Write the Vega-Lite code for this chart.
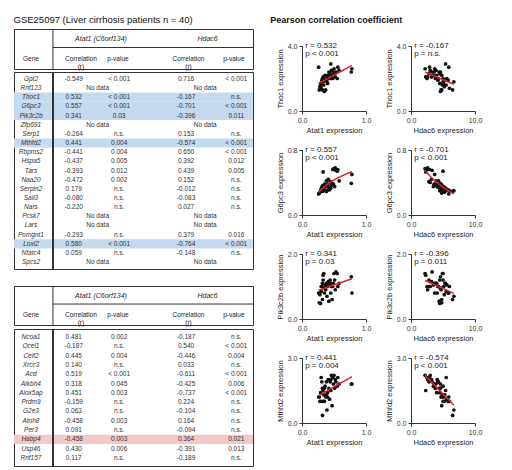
{
"$schema": "https://vega.github.io/schema/vega-lite/v6.json",
"padding": {"left": 13, "top": 14, "right": 5, "bottom": 5},
"config": {
  "view": {"stroke": null},
  "font": "Liberation Sans",
  "axis": {"grid": false, "domainColor": "#333", "tickColor": "#333", "tickSize": 3, "labelFontSize": 7, "labelColor": "#333", "titleFontSize": 7.5, "titleFontWeight": "normal", "titleColor": "#222", "labelFlush": false, "labelPadding": 2, "titlePadding": 3, "labelOverlap": false},
  "title": {"font": "Liberation Sans", "color": "#111"}
},
"datasets": {
  "t1": [
    {"g":"Gpt2","r1":"-0.549","p1":"< 0.001","r2":"0.716","p2":"< 0.001"},
    {"g":"Rnf123"},
    {"g":"Thoc1","r1":"0.532","p1":"< 0.001","r2":"-0.167","p2":"n.s."},
    {"g":"G6pc3","r1":"0.557","p1":"< 0.001","r2":"-0.701","p2":"< 0.001"},
    {"g":"Pik3c2b","r1":"0.341","p1":"0.03","r2":"-0.396","p2":"0.011"},
    {"g":"Zfp691"},
    {"g":"Serp1","r1":"-0.264","p1":"n.s.","r2":"0.153","p2":"n.s."},
    {"g":"Mthfd2","r1":"0.441","p1":"0.004","r2":"-0.574","p2":"< 0.001"},
    {"g":"Rbpms2","r1":"-0.441","p1":"0.004","r2":"0.650","p2":"< 0.001"},
    {"g":"Hspa5","r1":"-0.437","p1":"0.005","r2":"0.392","p2":"0.012"},
    {"g":"Tars","r1":"-0.393","p1":"0.012","r2":"0.439","p2":"0.005"},
    {"g":"Naa20","r1":"-0.472","p1":"0.002","r2":"0.152","p2":"n.s."},
    {"g":"Serpin2","r1":"0.179","p1":"n.s.","r2":"-0.012","p2":"n.s."},
    {"g":"Sall3","r1":"-0.080","p1":"n.s.","r2":"-0.083","p2":"n.s."},
    {"g":"Nars","r1":"-0.220","p1":"n.s.","r2":"0.027","p2":"n.s."},
    {"g":"Pcsk7"},
    {"g":"Lars"},
    {"g":"Pomgnt1","r1":"-0.293","p1":"n.s.","r2":"0.379","p2":"0.016"},
    {"g":"Loxl2","r1":"0.580","p1":"< 0.001","r2":"-0.764","p2":"< 0.001"},
    {"g":"Nfatc4","r1":"0.059","p1":"n.s.","r2":"-0.148","p2":"n.s."},
    {"g":"Spcs2"}
  ],
  "t2": [
    {"g":"Ncoa1","r1":"0.481","p1":"0.002","r2":"-0.187","p2":"n.s."},
    {"g":"Ocel1","r1":"-0.187","p1":"n.s.","r2":"0.540","p2":"< 0.001"},
    {"g":"Celf2","r1":"0.445","p1":"0.004","r2":"-0.446","p2":"0.004"},
    {"g":"Xrcc3","r1":"0.140","p1":"n.s.","r2":"0.033","p2":"n.s."},
    {"g":"Acd","r1":"0.519","p1":"< 0.001","r2":"-0.611","p2":"< 0.001"},
    {"g":"Alkbh4","r1":"0.318","p1":"0.045","r2":"-0.425","p2":"0.006"},
    {"g":"Alox5ap","r1":"0.451","p1":"0.003","r2":"-0.737","p2":"< 0.001"},
    {"g":"Prdm9","r1":"-0.159","p1":"n.s.","r2":"0.224","p2":"n.s."},
    {"g":"G2e3","r1":"0.063","p1":"n.s.","r2":"-0.104","p2":"n.s."},
    {"g":"Atoh8","r1":"-0.458","p1":"0.003","r2":"0.164","p2":"n.s."},
    {"g":"Per3","r1":"0.091","p1":"n.s.","r2":"-0.094","p2":"n.s."},
    {"g":"Habp4","r1":"-0.458","p1":"0.003","r2":"0.364","p2":"0.021"},
    {"g":"Usp46","r1":"0.430","p1":"0.006","r2":"-0.391","p2":"0.013"},
    {"g":"Rnf157","r1":"0.117","p1":"n.s.","r2":"-0.189","p2":"n.s."}
  ],
  "pts": [
    {"a":0.27,"h":4.8,"Thoc1":1.3,"G6pc3":0.27,"Pik3c2b":0.50,"Mthfd2":1.2},
    {"a":0.28,"h":5.2,"Thoc1":1.5,"G6pc3":0.28,"Pik3c2b":0.75,"Mthfd2":1.0},
    {"a":0.29,"h":4.5,"Thoc1":1.7,"G6pc3":0.30,"Pik3c2b":0.48,"Mthfd2":1.4},
    {"a":0.30,"h":6.0,"Thoc1":1.4,"G6pc3":0.30,"Pik3c2b":1.0,"Mthfd2":1.0},
    {"a":0.30,"h":5.5,"Thoc1":1.6,"G6pc3":0.32,"Pik3c2b":0.85,"Mthfd2":2.1},
    {"a":0.31,"h":4.2,"Thoc1":1.9,"G6pc3":0.34,"Pik3c2b":1.0,"Mthfd2":1.9},
    {"a":0.32,"h":6.5,"Thoc1":1.3,"G6pc3":0.29,"Pik3c2b":0.60,"Mthfd2":0.35},
    {"a":0.32,"h":3.8,"Thoc1":2.0,"G6pc3":0.36,"Pik3c2b":1.1,"Mthfd2":1.6},
    {"a":0.33,"h":5.0,"Thoc1":1.8,"G6pc3":0.31,"Pik3c2b":1.2,"Mthfd2":1.0},
    {"a":0.33,"h":2.3,"Thoc1":2.1,"G6pc3":0.53,"Pik3c2b":1.35,"Mthfd2":1.5},
    {"a":0.34,"h":4.9,"Thoc1":1.6,"G6pc3":0.33,"Pik3c2b":1.4,"Mthfd2":1.3},
    {"a":0.35,"h":4.6,"Thoc1":1.2,"G6pc3":0.38,"Pik3c2b":0.95,"Mthfd2":1.6},
    {"a":0.35,"h":5.8,"Thoc1":1.9,"G6pc3":0.31,"Pik3c2b":0.80,"Mthfd2":1.0},
    {"a":0.36,"h":3.5,"Thoc1":2.2,"G6pc3":0.35,"Pik3c2b":1.05,"Mthfd2":1.7},
    {"a":0.37,"h":4.7,"Thoc1":1.3,"G6pc3":0.30,"Pik3c2b":0.90,"Mthfd2":1.2},
    {"a":0.38,"h":5.3,"Thoc1":1.9,"G6pc3":0.29,"Pik3c2b":1.1,"Mthfd2":1.3},
    {"a":0.38,"h":4.3,"Thoc1":2.0,"G6pc3":0.42,"Pik3c2b":1.0,"Mthfd2":1.9},
    {"a":0.39,"h":6.7,"Thoc1":1.8,"G6pc3":0.30,"Pik3c2b":0.70,"Mthfd2":0.6},
    {"a":0.40,"h":4.0,"Thoc1":2.2,"G6pc3":0.38,"Pik3c2b":1.1,"Mthfd2":1.4},
    {"a":0.40,"h":5.1,"Thoc1":1.7,"G6pc3":0.35,"Pik3c2b":1.0,"Mthfd2":1.2},
    {"a":0.41,"h":3.2,"Thoc1":2.1,"G6pc3":0.44,"Pik3c2b":1.15,"Mthfd2":2.0},
    {"a":0.42,"h":4.4,"Thoc1":2.4,"G6pc3":0.34,"Pik3c2b":0.55,"Mthfd2":1.6},
    {"a":0.43,"h":5.6,"Thoc1":2.0,"G6pc3":0.31,"Pik3c2b":1.05,"Mthfd2":1.1},
    {"a":0.44,"h":2.8,"Thoc1":2.3,"G6pc3":0.41,"Pik3c2b":1.2,"Mthfd2":1.9},
    {"a":0.45,"h":4.1,"Thoc1":2.0,"G6pc3":0.36,"Pik3c2b":0.80,"Mthfd2":2.0},
    {"a":0.45,"h":5.4,"Thoc1":2.9,"G6pc3":0.33,"Pik3c2b":1.1,"Mthfd2":1.5},
    {"a":0.46,"h":3.0,"Thoc1":2.5,"G6pc3":0.40,"Pik3c2b":1.0,"Mthfd2":2.2},
    {"a":0.47,"h":4.8,"Thoc1":2.2,"G6pc3":0.37,"Pik3c2b":0.60,"Mthfd2":0.8},
    {"a":0.48,"h":2.5,"Thoc1":2.0,"G6pc3":0.56,"Pik3c2b":1.0,"Mthfd2":2.1},
    {"a":0.49,"h":3.6,"Thoc1":2.4,"G6pc3":0.38,"Pik3c2b":1.1,"Mthfd2":1.8},
    {"a":0.50,"h":2.2,"Thoc1":2.6,"G6pc3":0.57,"Pik3c2b":1.4,"Mthfd2":2.2},
    {"a":0.51,"h":4.5,"Thoc1":2.3,"G6pc3":0.35,"Pik3c2b":1.2,"Mthfd2":1.6},
    {"a":0.52,"h":2.6,"Thoc1":2.1,"G6pc3":0.58,"Pik3c2b":0.90,"Mthfd2":2.0},
    {"a":0.53,"h":3.3,"Thoc1":2.4,"G6pc3":0.55,"Pik3c2b":1.45,"Mthfd2":1.9},
    {"a":0.55,"h":5.0,"Thoc1":2.0,"G6pc3":0.54,"Pik3c2b":1.4,"Mthfd2":1.7},
    {"a":0.56,"h":2.9,"Thoc1":2.7,"G6pc3":0.56,"Pik3c2b":1.0,"Mthfd2":2.1},
    {"a":0.58,"h":3.9,"Thoc1":2.5,"G6pc3":0.42,"Pik3c2b":1.1,"Mthfd2":1.8},
    {"a":0.26,"h":5.9,"Thoc1":2.7,"G6pc3":0.26,"Pik3c2b":0.80,"Mthfd2":1.2},
    {"a":0.77,"h":4.6,"Thoc1":2.4,"G6pc3":0.39,"Pik3c2b":1.3,"Mthfd2":1.8},
    {"a":0.78,"h":3.7,"Thoc1":2.6,"G6pc3":0.50,"Pik3c2b":0.80,"Mthfd2":1.8}
  ]
},
"spacing": 16,
"hconcat": [
  {
    "title": {"text": "GSE25097 (Liver cirrhosis patients n = 40)", "anchor": "start", "fontSize": 9.5, "fontWeight": "normal", "offset": 4},
    "spacing": 15,
    "vconcat": [
      {
        "spacing": 0,
        "vconcat": [
          {
            "width": 239, "height": 40,
            "view": {"stroke": "#333", "strokeWidth": 1},
            "data": {"values": [{"k": 1}]},
            "layer": [
              {"mark": {"type": "rule", "color": "#333"}, "encoding": {"x": {"datum": 16.3, "type": "quantitative", "scale": {"domain": [0, 100]}, "axis": null}}},
              {"mark": {"type": "rule", "color": "#333"}, "encoding": {"x": {"datum": 16.3, "type": "quantitative", "scale": {"domain": [0, 100]}, "axis": null}, "x2": {"datum": 100}, "y": {"datum": 1.85, "type": "quantitative", "scale": {"domain": [0, 4], "reverse": true}, "axis": null}}},
              {"mark": {"type": "text", "fontSize": 7, "fontStyle": "italic", "color": "#222"}, "encoding": {"x": {"datum": 36.4, "type": "quantitative", "scale": {"domain": [0, 100]}, "axis": null}, "y": {"datum": 1.0, "type": "quantitative", "scale": {"domain": [0, 4], "reverse": true}, "axis": null}, "text": {"value": "Atat1 (C6orf134)"}}},
              {"mark": {"type": "text", "fontSize": 7, "fontStyle": "italic", "color": "#222"}, "encoding": {"x": {"datum": 81, "type": "quantitative", "scale": {"domain": [0, 100]}, "axis": null}, "y": {"datum": 1.0, "type": "quantitative", "scale": {"domain": [0, 4], "reverse": true}, "axis": null}, "text": {"value": "Hdac6"}}},
              {"mark": {"type": "text", "fontSize": 6.5, "color": "#222"}, "encoding": {"x": {"datum": 7.1, "type": "quantitative", "scale": {"domain": [0, 100]}, "axis": null}, "y": {"datum": 3.0, "type": "quantitative", "scale": {"domain": [0, 4], "reverse": true}, "axis": null}, "text": {"value": "Gene"}}},
              {"mark": {"type": "text", "fontSize": 6.5, "color": "#222", "lineBreak": "\n", "lineHeight": 8}, "encoding": {"x": {"datum": 28, "type": "quantitative", "scale": {"domain": [0, 100]}, "axis": null}, "y": {"datum": 3.0, "type": "quantitative", "scale": {"domain": [0, 4], "reverse": true}, "axis": null}, "text": {"value": "Correlation\n(r)"}}},
              {"mark": {"type": "text", "fontSize": 6.5, "color": "#222"}, "encoding": {"x": {"datum": 43.5, "type": "quantitative", "scale": {"domain": [0, 100]}, "axis": null}, "y": {"datum": 3.0, "type": "quantitative", "scale": {"domain": [0, 4], "reverse": true}, "axis": null}, "text": {"value": "p-value"}}},
              {"mark": {"type": "text", "fontSize": 6.5, "color": "#222", "lineBreak": "\n", "lineHeight": 8}, "encoding": {"x": {"datum": 73, "type": "quantitative", "scale": {"domain": [0, 100]}, "axis": null}, "y": {"datum": 3.0, "type": "quantitative", "scale": {"domain": [0, 4], "reverse": true}, "axis": null}, "text": {"value": "Correlation\n(r)"}}},
              {"mark": {"type": "text", "fontSize": 6.5, "color": "#222"}, "encoding": {"x": {"datum": 92, "type": "quantitative", "scale": {"domain": [0, 100]}, "axis": null}, "y": {"datum": 3.0, "type": "quantitative", "scale": {"domain": [0, 4], "reverse": true}, "axis": null}, "text": {"value": "p-value"}}}
            ]
          },
          {
            "width": 239, "height": 197,
            "view": {"stroke": "#333", "strokeWidth": 1},
            "data": {"name": "t1"},
            "layer": [
              {"transform": [{"filter": {"field": "g", "oneOf": ["Thoc1","G6pc3","Pik3c2b","Mthfd2","Loxl2"]}}], "mark": {"type": "rect", "color": "#c5d9ef"}, "encoding": {"x": {"datum": 0, "type": "quantitative", "scale": {"domain": [0, 100]}, "axis": null}, "x2": {"datum": 100}, "y": {"field": "g", "type": "nominal", "scale": {"domain": ["Gpt2","Rnf123","Thoc1","G6pc3","Pik3c2b","Zfp691","Serp1","Mthfd2","Rbpms2","Hspa5","Tars","Naa20","Serpin2","Sall3","Nars","Pcsk7","Lars","Pomgnt1","Loxl2","Nfatc4","Spcs2"], "paddingOuter": 0.25, "paddingInner": 0}, "axis": null}}},
              {"mark": {"type": "rule", "color": "#333"}, "encoding": {"x": {"datum": 16.3, "type": "quantitative", "scale": {"domain": [0, 100]}, "axis": null}}},
              {"mark": {"type": "text", "fontSize": 6.5, "fontStyle": "italic", "color": "#333"}, "encoding": {"x": {"datum": 7.1, "type": "quantitative", "scale": {"domain": [0, 100]}, "axis": null}, "y": {"field": "g", "type": "nominal", "scale": {"domain": ["Gpt2","Rnf123","Thoc1","G6pc3","Pik3c2b","Zfp691","Serp1","Mthfd2","Rbpms2","Hspa5","Tars","Naa20","Serpin2","Sall3","Nars","Pcsk7","Lars","Pomgnt1","Loxl2","Nfatc4","Spcs2"], "paddingOuter": 0.25, "paddingInner": 0}, "axis": null}, "text": {"field": "g"}}},
              {"transform": [{"filter": "isValid(datum.r1)"}], "mark": {"type": "text", "fontSize": 6.5, "color": "#333"}, "encoding": {"x": {"datum": 25, "type": "quantitative", "scale": {"domain": [0, 100]}, "axis": null}, "y": {"field": "g", "type": "nominal", "scale": {"domain": ["Gpt2","Rnf123","Thoc1","G6pc3","Pik3c2b","Zfp691","Serp1","Mthfd2","Rbpms2","Hspa5","Tars","Naa20","Serpin2","Sall3","Nars","Pcsk7","Lars","Pomgnt1","Loxl2","Nfatc4","Spcs2"], "paddingOuter": 0.25, "paddingInner": 0}, "axis": null}, "text": {"field": "r1"}}},
              {"transform": [{"filter": "isValid(datum.r1)"}], "mark": {"type": "text", "fontSize": 6.5, "color": "#333"}, "encoding": {"x": {"datum": 44, "type": "quantitative", "scale": {"domain": [0, 100]}, "axis": null}, "y": {"field": "g", "type": "nominal", "scale": {"domain": ["Gpt2","Rnf123","Thoc1","G6pc3","Pik3c2b","Zfp691","Serp1","Mthfd2","Rbpms2","Hspa5","Tars","Naa20","Serpin2","Sall3","Nars","Pcsk7","Lars","Pomgnt1","Loxl2","Nfatc4","Spcs2"], "paddingOuter": 0.25, "paddingInner": 0}, "axis": null}, "text": {"field": "p1"}}},
              {"transform": [{"filter": "isValid(datum.r1)"}], "mark": {"type": "text", "fontSize": 6.5, "color": "#333"}, "encoding": {"x": {"datum": 72, "type": "quantitative", "scale": {"domain": [0, 100]}, "axis": null}, "y": {"field": "g", "type": "nominal", "scale": {"domain": ["Gpt2","Rnf123","Thoc1","G6pc3","Pik3c2b","Zfp691","Serp1","Mthfd2","Rbpms2","Hspa5","Tars","Naa20","Serpin2","Sall3","Nars","Pcsk7","Lars","Pomgnt1","Loxl2","Nfatc4","Spcs2"], "paddingOuter": 0.25, "paddingInner": 0}, "axis": null}, "text": {"field": "r2"}}},
              {"transform": [{"filter": "isValid(datum.r1)"}], "mark": {"type": "text", "fontSize": 6.5, "color": "#333"}, "encoding": {"x": {"datum": 93, "type": "quantitative", "scale": {"domain": [0, 100]}, "axis": null}, "y": {"field": "g", "type": "nominal", "scale": {"domain": ["Gpt2","Rnf123","Thoc1","G6pc3","Pik3c2b","Zfp691","Serp1","Mthfd2","Rbpms2","Hspa5","Tars","Naa20","Serpin2","Sall3","Nars","Pcsk7","Lars","Pomgnt1","Loxl2","Nfatc4","Spcs2"], "paddingOuter": 0.25, "paddingInner": 0}, "axis": null}, "text": {"field": "p2"}}},
              {"transform": [{"filter": "!isValid(datum.r1)"}], "mark": {"type": "text", "fontSize": 6.5, "color": "#333"}, "encoding": {"x": {"datum": 35, "type": "quantitative", "scale": {"domain": [0, 100]}, "axis": null}, "y": {"field": "g", "type": "nominal", "scale": {"domain": ["Gpt2","Rnf123","Thoc1","G6pc3","Pik3c2b","Zfp691","Serp1","Mthfd2","Rbpms2","Hspa5","Tars","Naa20","Serpin2","Sall3","Nars","Pcsk7","Lars","Pomgnt1","Loxl2","Nfatc4","Spcs2"], "paddingOuter": 0.25, "paddingInner": 0}, "axis": null}, "text": {"value": "No data"}}},
              {"transform": [{"filter": "!isValid(datum.r1)"}], "mark": {"type": "text", "fontSize": 6.5, "color": "#333"}, "encoding": {"x": {"datum": 80, "type": "quantitative", "scale": {"domain": [0, 100]}, "axis": null}, "y": {"field": "g", "type": "nominal", "scale": {"domain": ["Gpt2","Rnf123","Thoc1","G6pc3","Pik3c2b","Zfp691","Serp1","Mthfd2","Rbpms2","Hspa5","Tars","Naa20","Serpin2","Sall3","Nars","Pcsk7","Lars","Pomgnt1","Loxl2","Nfatc4","Spcs2"], "paddingOuter": 0.25, "paddingInner": 0}, "axis": null}, "text": {"value": "No data"}}}
            ]
          }
        ]
      },
      {
        "spacing": 0,
        "vconcat": [
          {
            "width": 239, "height": 39,
            "view": {"stroke": "#333", "strokeWidth": 1},
            "data": {"values": [{"k": 1}]},
            "layer": [
              {"mark": {"type": "rule", "color": "#333"}, "encoding": {"x": {"datum": 16.3, "type": "quantitative", "scale": {"domain": [0, 100]}, "axis": null}}},
              {"mark": {"type": "rule", "color": "#333"}, "encoding": {"x": {"datum": 16.3, "type": "quantitative", "scale": {"domain": [0, 100]}, "axis": null}, "x2": {"datum": 100}, "y": {"datum": 1.85, "type": "quantitative", "scale": {"domain": [0, 4], "reverse": true}, "axis": null}}},
              {"mark": {"type": "text", "fontSize": 7, "fontStyle": "italic", "color": "#222"}, "encoding": {"x": {"datum": 36.4, "type": "quantitative", "scale": {"domain": [0, 100]}, "axis": null}, "y": {"datum": 1.0, "type": "quantitative", "scale": {"domain": [0, 4], "reverse": true}, "axis": null}, "text": {"value": "Atat1 (C6orf134)"}}},
              {"mark": {"type": "text", "fontSize": 7, "fontStyle": "italic", "color": "#222"}, "encoding": {"x": {"datum": 81, "type": "quantitative", "scale": {"domain": [0, 100]}, "axis": null}, "y": {"datum": 1.0, "type": "quantitative", "scale": {"domain": [0, 4], "reverse": true}, "axis": null}, "text": {"value": "Hdac6"}}},
              {"mark": {"type": "text", "fontSize": 6.5, "color": "#222"}, "encoding": {"x": {"datum": 7.1, "type": "quantitative", "scale": {"domain": [0, 100]}, "axis": null}, "y": {"datum": 3.0, "type": "quantitative", "scale": {"domain": [0, 4], "reverse": true}, "axis": null}, "text": {"value": "Gene"}}},
              {"mark": {"type": "text", "fontSize": 6.5, "color": "#222", "lineBreak": "\n", "lineHeight": 8}, "encoding": {"x": {"datum": 28, "type": "quantitative", "scale": {"domain": [0, 100]}, "axis": null}, "y": {"datum": 3.0, "type": "quantitative", "scale": {"domain": [0, 4], "reverse": true}, "axis": null}, "text": {"value": "Correlation\n(r)"}}},
              {"mark": {"type": "text", "fontSize": 6.5, "color": "#222"}, "encoding": {"x": {"datum": 43.5, "type": "quantitative", "scale": {"domain": [0, 100]}, "axis": null}, "y": {"datum": 3.0, "type": "quantitative", "scale": {"domain": [0, 4], "reverse": true}, "axis": null}, "text": {"value": "p-value"}}},
              {"mark": {"type": "text", "fontSize": 6.5, "color": "#222", "lineBreak": "\n", "lineHeight": 8}, "encoding": {"x": {"datum": 73, "type": "quantitative", "scale": {"domain": [0, 100]}, "axis": null}, "y": {"datum": 3.0, "type": "quantitative", "scale": {"domain": [0, 4], "reverse": true}, "axis": null}, "text": {"value": "Correlation\n(r)"}}},
              {"mark": {"type": "text", "fontSize": 6.5, "color": "#222"}, "encoding": {"x": {"datum": 92, "type": "quantitative", "scale": {"domain": [0, 100]}, "axis": null}, "y": {"datum": 3.0, "type": "quantitative", "scale": {"domain": [0, 4], "reverse": true}, "axis": null}, "text": {"value": "p-value"}}}
            ]
          },
          {
            "width": 239, "height": 137,
            "view": {"stroke": "#333", "strokeWidth": 1},
            "data": {"name": "t2"},
            "layer": [
              {"transform": [{"filter": {"field": "g", "oneOf": ["Habp4"]}}], "mark": {"type": "rect", "color": "#f3c8c8"}, "encoding": {"x": {"datum": 0, "type": "quantitative", "scale": {"domain": [0, 100]}, "axis": null}, "x2": {"datum": 100}, "y": {"field": "g", "type": "nominal", "scale": {"domain": ["Ncoa1","Ocel1","Celf2","Xrcc3","Acd","Alkbh4","Alox5ap","Prdm9","G2e3","Atoh8","Per3","Habp4","Usp46","Rnf157"], "paddingOuter": 0.35, "paddingInner": 0}, "axis": null}}},
              {"mark": {"type": "rule", "color": "#333"}, "encoding": {"x": {"datum": 16.3, "type": "quantitative", "scale": {"domain": [0, 100]}, "axis": null}}},
              {"mark": {"type": "text", "fontSize": 6.5, "fontStyle": "italic", "color": "#333"}, "encoding": {"x": {"datum": 7.1, "type": "quantitative", "scale": {"domain": [0, 100]}, "axis": null}, "y": {"field": "g", "type": "nominal", "scale": {"domain": ["Ncoa1","Ocel1","Celf2","Xrcc3","Acd","Alkbh4","Alox5ap","Prdm9","G2e3","Atoh8","Per3","Habp4","Usp46","Rnf157"], "paddingOuter": 0.35, "paddingInner": 0}, "axis": null}, "text": {"field": "g"}}},
              {"mark": {"type": "text", "fontSize": 6.5, "color": "#333"}, "encoding": {"x": {"datum": 25, "type": "quantitative", "scale": {"domain": [0, 100]}, "axis": null}, "y": {"field": "g", "type": "nominal", "scale": {"domain": ["Ncoa1","Ocel1","Celf2","Xrcc3","Acd","Alkbh4","Alox5ap","Prdm9","G2e3","Atoh8","Per3","Habp4","Usp46","Rnf157"], "paddingOuter": 0.35, "paddingInner": 0}, "axis": null}, "text": {"field": "r1"}}},
              {"mark": {"type": "text", "fontSize": 6.5, "color": "#333"}, "encoding": {"x": {"datum": 44, "type": "quantitative", "scale": {"domain": [0, 100]}, "axis": null}, "y": {"field": "g", "type": "nominal", "scale": {"domain": ["Ncoa1","Ocel1","Celf2","Xrcc3","Acd","Alkbh4","Alox5ap","Prdm9","G2e3","Atoh8","Per3","Habp4","Usp46","Rnf157"], "paddingOuter": 0.35, "paddingInner": 0}, "axis": null}, "text": {"field": "p1"}}},
              {"mark": {"type": "text", "fontSize": 6.5, "color": "#333"}, "encoding": {"x": {"datum": 72, "type": "quantitative", "scale": {"domain": [0, 100]}, "axis": null}, "y": {"field": "g", "type": "nominal", "scale": {"domain": ["Ncoa1","Ocel1","Celf2","Xrcc3","Acd","Alkbh4","Alox5ap","Prdm9","G2e3","Atoh8","Per3","Habp4","Usp46","Rnf157"], "paddingOuter": 0.35, "paddingInner": 0}, "axis": null}, "text": {"field": "r2"}}},
              {"mark": {"type": "text", "fontSize": 6.5, "color": "#333"}, "encoding": {"x": {"datum": 93, "type": "quantitative", "scale": {"domain": [0, 100]}, "axis": null}, "y": {"field": "g", "type": "nominal", "scale": {"domain": ["Ncoa1","Ocel1","Celf2","Xrcc3","Acd","Alkbh4","Alox5ap","Prdm9","G2e3","Atoh8","Per3","Habp4","Usp46","Rnf157"], "paddingOuter": 0.35, "paddingInner": 0}, "axis": null}, "text": {"field": "p2"}}}
            ]
          }
        ]
      }
    ]
  },
  {
    "title": {"text": "Pearson correlation coefficient", "anchor": "start", "fontSize": 9, "fontWeight": "bold", "offset": 4.5, "dx": -6},
    "spacing": 12,
    "vconcat": [
      {"width": 10, "height": 1, "data": {"values": [{"k": 1}]}, "mark": {"type": "rect", "opacity": 0}, "encoding": {}},
      {"spacing": 14, "hconcat": [
        {"width": 64, "height": 65, "layer": [
          {"data": {"name": "pts"}, "mark": {"type": "circle", "size": 14, "color": "#111", "opacity": 1}, "encoding": {"x": {"field": "a", "type": "quantitative", "scale": {"domain": [0, 1]}, "axis": {"values": [0, 0.5, 1], "format": ".1f", "title": "Atat1 expression"}}, "y": {"field": "Thoc1", "type": "quantitative", "scale": {"domain": [0, 4]}, "axis": {"values": [0, 1, 2, 3, 4], "format": ".1f", "title": "Thoc1 expression"}}}},
          {"data": {"name": "pts"}, "transform": [{"regression": "Thoc1", "on": "a"}], "mark": {"type": "line", "color": "#e3202b", "strokeWidth": 1.5}, "encoding": {"x": {"field": "a", "type": "quantitative"}, "y": {"field": "Thoc1", "type": "quantitative"}}},
          {"data": {"values": [{"t": "r = 0.532\np < 0.001"}]}, "mark": {"type": "text", "align": "left", "baseline": "middle", "fontSize": 8, "lineHeight": 8, "lineBreak": "\n", "color": "#222"}, "encoding": {"x": {"datum": 0.05}, "y": {"datum": 4}, "text": {"field": "t"}}}
        ]},
        {"width": 64, "height": 65, "layer": [
          {"data": {"name": "pts"}, "mark": {"type": "circle", "size": 14, "color": "#111", "opacity": 1}, "encoding": {"x": {"field": "h", "type": "quantitative", "scale": {"domain": [0, 10]}, "axis": {"values": [0, 5, 10], "format": ".1f", "title": "Hdac6 expression"}}, "y": {"field": "Thoc1", "type": "quantitative", "scale": {"domain": [0, 4]}, "axis": {"values": [0, 1, 2, 3, 4], "format": ".1f", "title": "Thoc1 expression"}}}},
          {"data": {"name": "pts"}, "transform": [{"regression": "Thoc1", "on": "h"}], "mark": {"type": "line", "color": "#e3202b", "strokeWidth": 1.5}, "encoding": {"x": {"field": "h", "type": "quantitative"}, "y": {"field": "Thoc1", "type": "quantitative"}}},
          {"data": {"values": [{"t": "r = -0.167\np = n.s."}]}, "mark": {"type": "text", "align": "left", "baseline": "middle", "fontSize": 8, "lineHeight": 8, "lineBreak": "\n", "color": "#222"}, "encoding": {"x": {"datum": 0.5}, "y": {"datum": 4}, "text": {"field": "t"}}}
        ]}
      ]},
      {"spacing": 14, "hconcat": [
        {"width": 64, "height": 65, "layer": [
          {"data": {"name": "pts"}, "mark": {"type": "circle", "size": 14, "color": "#111", "opacity": 1}, "encoding": {"x": {"field": "a", "type": "quantitative", "scale": {"domain": [0, 1]}, "axis": {"values": [0, 0.5, 1], "format": ".1f", "title": "Atat1 expression"}}, "y": {"field": "G6pc3", "type": "quantitative", "scale": {"domain": [0, 0.8]}, "axis": {"values": [0, 0.2, 0.4, 0.6, 0.8], "format": ".1f", "title": "G6pc3 expression"}}}},
          {"data": {"name": "pts"}, "transform": [{"regression": "G6pc3", "on": "a", "method": "log"}], "mark": {"type": "line", "color": "#e3202b", "strokeWidth": 1.5}, "encoding": {"x": {"field": "a", "type": "quantitative"}, "y": {"field": "G6pc3", "type": "quantitative"}}},
          {"data": {"values": [{"t": "r = 0.557\np < 0.001"}]}, "mark": {"type": "text", "align": "left", "baseline": "middle", "fontSize": 8, "lineHeight": 8, "lineBreak": "\n", "color": "#222"}, "encoding": {"x": {"datum": 0.05}, "y": {"datum": 0.8}, "text": {"field": "t"}}}
        ]},
        {"width": 64, "height": 65, "layer": [
          {"data": {"name": "pts"}, "mark": {"type": "circle", "size": 14, "color": "#111", "opacity": 1}, "encoding": {"x": {"field": "h", "type": "quantitative", "scale": {"domain": [0, 10]}, "axis": {"values": [0, 5, 10], "format": ".1f", "title": "Hdac6 expression"}}, "y": {"field": "G6pc3", "type": "quantitative", "scale": {"domain": [0, 0.8]}, "axis": {"values": [0, 0.2, 0.4, 0.6, 0.8], "format": ".1f", "title": "G6pc3 expression"}}}},
          {"data": {"name": "pts"}, "transform": [{"regression": "G6pc3", "on": "h", "method": "exp"}], "mark": {"type": "line", "color": "#e3202b", "strokeWidth": 1.5}, "encoding": {"x": {"field": "h", "type": "quantitative"}, "y": {"field": "G6pc3", "type": "quantitative"}}},
          {"data": {"values": [{"t": "r = -0.701\np < 0.001"}]}, "mark": {"type": "text", "align": "left", "baseline": "middle", "fontSize": 8, "lineHeight": 8, "lineBreak": "\n", "color": "#222"}, "encoding": {"x": {"datum": 0.5}, "y": {"datum": 0.8}, "text": {"field": "t"}}}
        ]}
      ]},
      {"spacing": 14, "hconcat": [
        {"width": 64, "height": 65, "layer": [
          {"data": {"name": "pts"}, "mark": {"type": "circle", "size": 14, "color": "#111", "opacity": 1}, "encoding": {"x": {"field": "a", "type": "quantitative", "scale": {"domain": [0, 1]}, "axis": {"values": [0, 0.5, 1], "format": ".1f", "title": "Atat1 expression"}}, "y": {"field": "Pik3c2b", "type": "quantitative", "scale": {"domain": [0, 2]}, "axis": {"values": [0, 0.5, 1, 1.5, 2], "format": ".1f", "title": "Pik3c2b expression"}}}},
          {"data": {"name": "pts"}, "transform": [{"regression": "Pik3c2b", "on": "a"}], "mark": {"type": "line", "color": "#e3202b", "strokeWidth": 1.5}, "encoding": {"x": {"field": "a", "type": "quantitative"}, "y": {"field": "Pik3c2b", "type": "quantitative"}}},
          {"data": {"values": [{"t": "r = 0.341\np = 0.03"}]}, "mark": {"type": "text", "align": "left", "baseline": "middle", "fontSize": 8, "lineHeight": 8, "lineBreak": "\n", "color": "#222"}, "encoding": {"x": {"datum": 0.05}, "y": {"datum": 2}, "text": {"field": "t"}}}
        ]},
        {"width": 64, "height": 65, "layer": [
          {"data": {"name": "pts"}, "mark": {"type": "circle", "size": 14, "color": "#111", "opacity": 1}, "encoding": {"x": {"field": "h", "type": "quantitative", "scale": {"domain": [0, 10]}, "axis": {"values": [0, 5, 10], "format": ".1f", "title": "Hdac6 expression"}}, "y": {"field": "Pik3c2b", "type": "quantitative", "scale": {"domain": [0, 2]}, "axis": {"values": [0, 0.5, 1, 1.5, 2], "format": ".1f", "title": "Pik3c2b expression"}}}},
          {"data": {"name": "pts"}, "transform": [{"regression": "Pik3c2b", "on": "h"}], "mark": {"type": "line", "color": "#e3202b", "strokeWidth": 1.5}, "encoding": {"x": {"field": "h", "type": "quantitative"}, "y": {"field": "Pik3c2b", "type": "quantitative"}}},
          {"data": {"values": [{"t": "r = -0.396\np = 0.011"}]}, "mark": {"type": "text", "align": "left", "baseline": "middle", "fontSize": 8, "lineHeight": 8, "lineBreak": "\n", "color": "#222"}, "encoding": {"x": {"datum": 0.5}, "y": {"datum": 2}, "text": {"field": "t"}}}
        ]}
      ]},
      {"spacing": 14, "hconcat": [
        {"width": 64, "height": 65, "layer": [
          {"data": {"name": "pts"}, "mark": {"type": "circle", "size": 14, "color": "#111", "opacity": 1}, "encoding": {"x": {"field": "a", "type": "quantitative", "scale": {"domain": [0, 1]}, "axis": {"values": [0, 0.5, 1], "format": ".1f", "title": "Atat1 expression"}}, "y": {"field": "Mthfd2", "type": "quantitative", "scale": {"domain": [0, 3]}, "axis": {"values": [0, 1, 2, 3], "format": ".1f", "title": "Mthfd2 expression"}}}},
          {"data": {"name": "pts"}, "transform": [{"regression": "Mthfd2", "on": "a"}], "mark": {"type": "line", "color": "#e3202b", "strokeWidth": 1.5}, "encoding": {"x": {"field": "a", "type": "quantitative"}, "y": {"field": "Mthfd2", "type": "quantitative"}}},
          {"data": {"values": [{"t": "r = 0.441\np = 0.004"}]}, "mark": {"type": "text", "align": "left", "baseline": "middle", "fontSize": 8, "lineHeight": 8, "lineBreak": "\n", "color": "#222"}, "encoding": {"x": {"datum": 0.05}, "y": {"datum": 3}, "text": {"field": "t"}}}
        ]},
        {"width": 64, "height": 65, "layer": [
          {"data": {"name": "pts"}, "mark": {"type": "circle", "size": 14, "color": "#111", "opacity": 1}, "encoding": {"x": {"field": "h", "type": "quantitative", "scale": {"domain": [0, 10]}, "axis": {"values": [0, 5, 10], "format": ".1f", "title": "Hdac6 expression"}}, "y": {"field": "Mthfd2", "type": "quantitative", "scale": {"domain": [0, 3]}, "axis": {"values": [0, 1, 2, 3], "format": ".1f", "title": "Mthfd2 expression"}}}},
          {"data": {"name": "pts"}, "transform": [{"regression": "Mthfd2", "on": "h"}], "mark": {"type": "line", "color": "#e3202b", "strokeWidth": 1.5}, "encoding": {"x": {"field": "h", "type": "quantitative"}, "y": {"field": "Mthfd2", "type": "quantitative"}}},
          {"data": {"values": [{"t": "r = -0.574\np < 0.001"}]}, "mark": {"type": "text", "align": "left", "baseline": "middle", "fontSize": 8, "lineHeight": 8, "lineBreak": "\n", "color": "#222"}, "encoding": {"x": {"datum": 0.5}, "y": {"datum": 3}, "text": {"field": "t"}}}
        ]}
      ]}
    ]
  }
]
}
